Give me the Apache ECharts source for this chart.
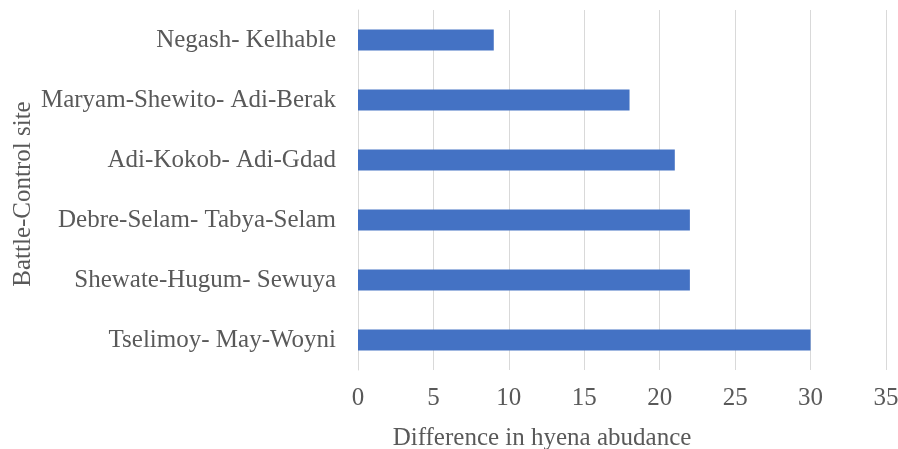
<!DOCTYPE html>
<html>
<head>
<meta charset="utf-8">
<script src="https://cdn.jsdelivr.net/npm/echarts@6/dist/echarts.min.js"></script>
<style>html,body{margin:0;padding:0;background:#fff}#c{width:898px;height:449px}</style>
</head>
<body>
<div id="c"></div>
<script>
const categories = ["Tselimoy- May-Woyni","Shewate-Hugum- Sewuya","Debre-Selam- Tabya-Selam","Adi-Kokob- Adi-Gdad","Maryam-Shewito- Adi-Berak","Negash- Kelhable"];
const values = [30, 22, 22, 21, 18, 9];
const xTicks = {min: 0, max: 35, interval: 5};
const xName = "Difference in hyena abudance";
const yName = "Battle-Control site";

const font = "'Liberation Serif', 'Times New Roman', serif";
const chart = echarts.init(document.getElementById('c'), null, {renderer: 'canvas'});
chart.setOption({
  animation: false,
  backgroundColor: '#fff',
  grid: {left: 358, right: 12, top: 10, bottom: 79, containLabel: false, outerBoundsMode: 'none'},
  xAxis: {
    type: 'value', min: xTicks.min, max: xTicks.max, interval: xTicks.interval,
    name: xName, nameLocation: 'middle', nameGap: 56, nameMoveOverlap: false,
    nameTextStyle: {fontFamily: font, fontSize: 25, color: '#595959', padding: [0, 160, 0, 0]},
    axisLine: {show: false}, axisTick: {show: false},
    axisLabel: {fontFamily: font, fontSize: 25, color: '#595959', margin: 16},
    splitLine: {lineStyle: {color: '#d9d9d9', width: 1}}
  },
  yAxis: {
    type: 'category', data: categories,
    name: yName, nameLocation: 'middle', nameGap: 322, nameRotate: 90, nameMoveOverlap: false,
    nameTextStyle: {fontFamily: font, fontSize: 25, color: '#595959', padding: [0, 8, 0, 0]},
    axisLine: {show: true, lineStyle: {color: '#d9d9d9'}}, axisTick: {show: false},
    axisLabel: {fontFamily: font, fontSize: 25, color: '#595959', margin: 22}
  },
  series: [{
    type: 'bar', data: values, barWidth: 21,
    itemStyle: {color: '#4472C4'}
  }]
});
</script>
</body>
</html>
